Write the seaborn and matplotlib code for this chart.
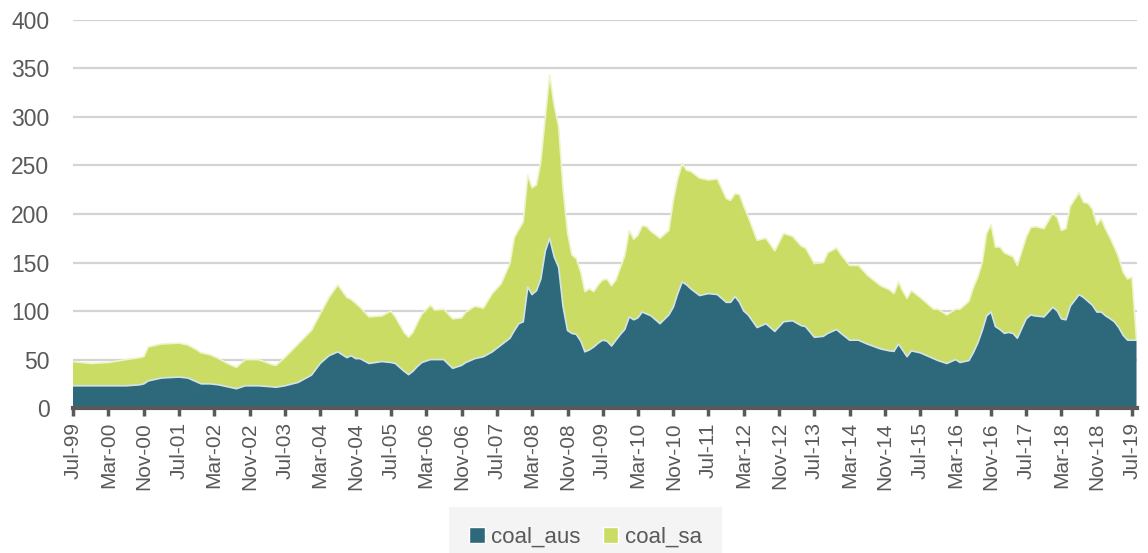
import numpy as np
import pandas as pd
import matplotlib; matplotlib.use("Agg")
import matplotlib.pyplot as plt
import matplotlib.dates as mdates
from matplotlib.patches import Patch
import seaborn as sns

# monthly readings (only the months where the shape changes)
dates = ["1999-07","1999-11","2000-03","2000-07","2000-10","2000-11","2000-12","2001-03","2001-07","2001-09",
         "2001-11","2001-12","2002-02","2002-04","2002-06","2002-08","2002-10","2003-01","2003-04","2003-05",
         "2003-07","2003-10","2004-01","2004-03","2004-05","2004-07","2004-09","2004-10","2004-11","2004-12",
         "2005-02","2005-05","2005-07","2005-08","2005-09","2005-10","2005-11","2005-12","2006-01","2006-02",
         "2006-04","2006-05","2006-07","2006-09","2006-11","2006-12","2007-02","2007-04","2007-06","2007-08",
         "2007-10","2007-11","2007-12","2008-01","2008-02","2008-03","2008-04","2008-05","2008-06","2008-07",
         "2008-08","2008-09","2008-10","2008-11","2008-12","2009-01","2009-02","2009-03","2009-04","2009-05",
         "2009-06","2009-07","2009-08","2009-09","2009-10","2009-11","2009-12","2010-01","2010-02","2010-03",
         "2010-04","2010-05","2010-06","2010-08","2010-10","2010-11","2010-12","2011-01","2011-02","2011-03",
         "2011-05","2011-07","2011-09","2011-11","2011-12","2012-01","2012-02","2012-03","2012-04","2012-06",
         "2012-08","2012-10","2012-12","2013-02","2013-04","2013-05","2013-07","2013-09","2013-10","2013-12",
         "2014-01","2014-03","2014-05","2014-07","2014-10","2014-12","2015-01","2015-02","2015-03","2015-04",
         "2015-05","2015-07","2015-09","2015-10","2015-11","2016-01","2016-03","2016-04","2016-06","2016-07",
         "2016-08","2016-09","2016-10","2016-11","2016-12","2017-01","2017-02","2017-03","2017-04","2017-05",
         "2017-07","2017-08","2017-09","2017-11","2018-01","2018-02","2018-03","2018-04","2018-05","2018-07",
         "2018-08","2018-09","2018-10","2018-11","2018-12","2019-01","2019-02","2019-03","2019-04","2019-05",
         "2019-06","2019-07","2019-08"]

coal_aus = [23,23,23,23,24,25,28,31,32,31,
            27,25,25,24,22,20,23,23,22,21.5,
            23,26.5,34,46,54,58,52,54,51,51,
            46,48,47,46,42,38,34.5,38,43,47,
            50,50,50,41,44,47,51,53,58,65,
            72,80,87,89,125,117,121,133,162,175,
            156,145,105,80,77,76,69,58,60,63,
            67,70,69,64,70,76,81,94,91,93,
            99,97,95,87,96,104,118,130,127,123,
            116,118,117,109,109,115,109,100,96,83,
            87,79,89,90,85,84,73,74,77,81,
            77,70,70,66,61,59,58.5,66,60,53,
            59,57,53,51,49,46,50,47,49,57,
            67,80,95,99,84,81,77,78,77,72,
            92,96,95,94,104,100,92,91,105,117,
            114,110,106,99,99,95,92,89,83,75,
            70,70,70]

coal_sa = [25,23,24,27,28,28,35,35,35,34,
           33,32,30,27,24,22,27,27,23,22.5,
           29,39.5,46,51,60,69,62,58,57,53,
           48,47,53,48,44,40,38.5,40,45,50,
           56,51,52,51,49,52,54,50,60,63,
           77,96,97,103,115,110,109,121,138,168,
           156,145,122,101,81,78,71,62,63,57,
           60,62,64,62,62,69,76,89,83,85,
           89,90,87,88,87,110,118,122,118,121,
           121,117,119,107,105,106,111,108,101,90,
           88,83,91,87,82,81,76,76,83,84,
           81,77,77,71,65,63,59.5,64,61,60,
           62,57,53,51,53,50,52,55,61,67,
           68,70,85,90,82,85,83,80,79,75,
           84,90,92,91,97,96,91,94,103,105,
           98,101,99,90,96,89,83,77,72,65,
           63,65,0]

series = ["coal_aus", "coal_sa"]
yticks = list(range(0, 401, 50))

AUS = "#2d697b"; SA = "#cbdc64"; TXT = "#595959"

sns.set_theme(style="white")
plt.rcParams["font.family"] = ["Liberation Sans", "DejaVu Sans"]

x = pd.to_datetime(dates)
fig = plt.figure(figsize=(11.48, 5.53), dpi=100)
ax = fig.add_axes([0.0636, 0.262, 0.9264, 0.702])

ax.set_axisbelow(True)
ax.yaxis.grid(True, color="#d4d4d4", linewidth=1.6)
ax.stackplot(x, coal_aus, coal_sa, colors=[AUS, SA], edgecolor="none", zorder=2)
top = np.array(coal_aus) + np.array(coal_sa)
sns.lineplot(x=x, y=coal_aus, ax=ax, color="#d3e3ea", linewidth=1.2, zorder=3)
sns.lineplot(x=x, y=top, ax=ax, color="#eef4cc", linewidth=1.2, zorder=3)
ax.set_xlabel("")
ax.set_ylabel("")

ax.set_ylim(0, 400)
ax.set_yticks(yticks)
ax.set_xlim(x[0], x[-1])
ticks = pd.date_range("1999-07-01", "2019-07-01", freq="8MS")
ax.set_xticks(ticks)
ax.xaxis.set_major_formatter(mdates.DateFormatter("%b-%y"))
ax.tick_params(axis="x", rotation=90, labelsize=15, colors=TXT, length=6, width=2.5,
               direction="out", bottom=True, pad=4)
ax.tick_params(axis="y", labelsize=16.5, colors=TXT, length=0, pad=17)
for lab in ax.get_xticklabels() + ax.get_yticklabels():
    lab.set_color(TXT)

sns.despine(ax=ax, left=True)
ax.spines["bottom"].set_color(TXT)
ax.spines["bottom"].set_linewidth(3)
ax.spines["bottom"].set_zorder(4)

handles = [Patch(facecolor=AUS, label=series[0]), Patch(facecolor=SA, label=series[1])]
leg = fig.legend(handles=handles, loc="lower center", bbox_to_anchor=(0.51, -0.035), ncol=2,
                 frameon=True, fontsize=16, handlelength=0.7, handleheight=0.7,
                 handletextpad=0.3, columnspacing=1.0, borderpad=0.6)
leg.get_frame().set_facecolor("#f2f2f2")
leg.get_frame().set_edgecolor("none")
leg.get_frame().set_boxstyle("square")
for t in leg.get_texts():
    t.set_color(TXT)

fig.savefig("out.png", dpi=100)
